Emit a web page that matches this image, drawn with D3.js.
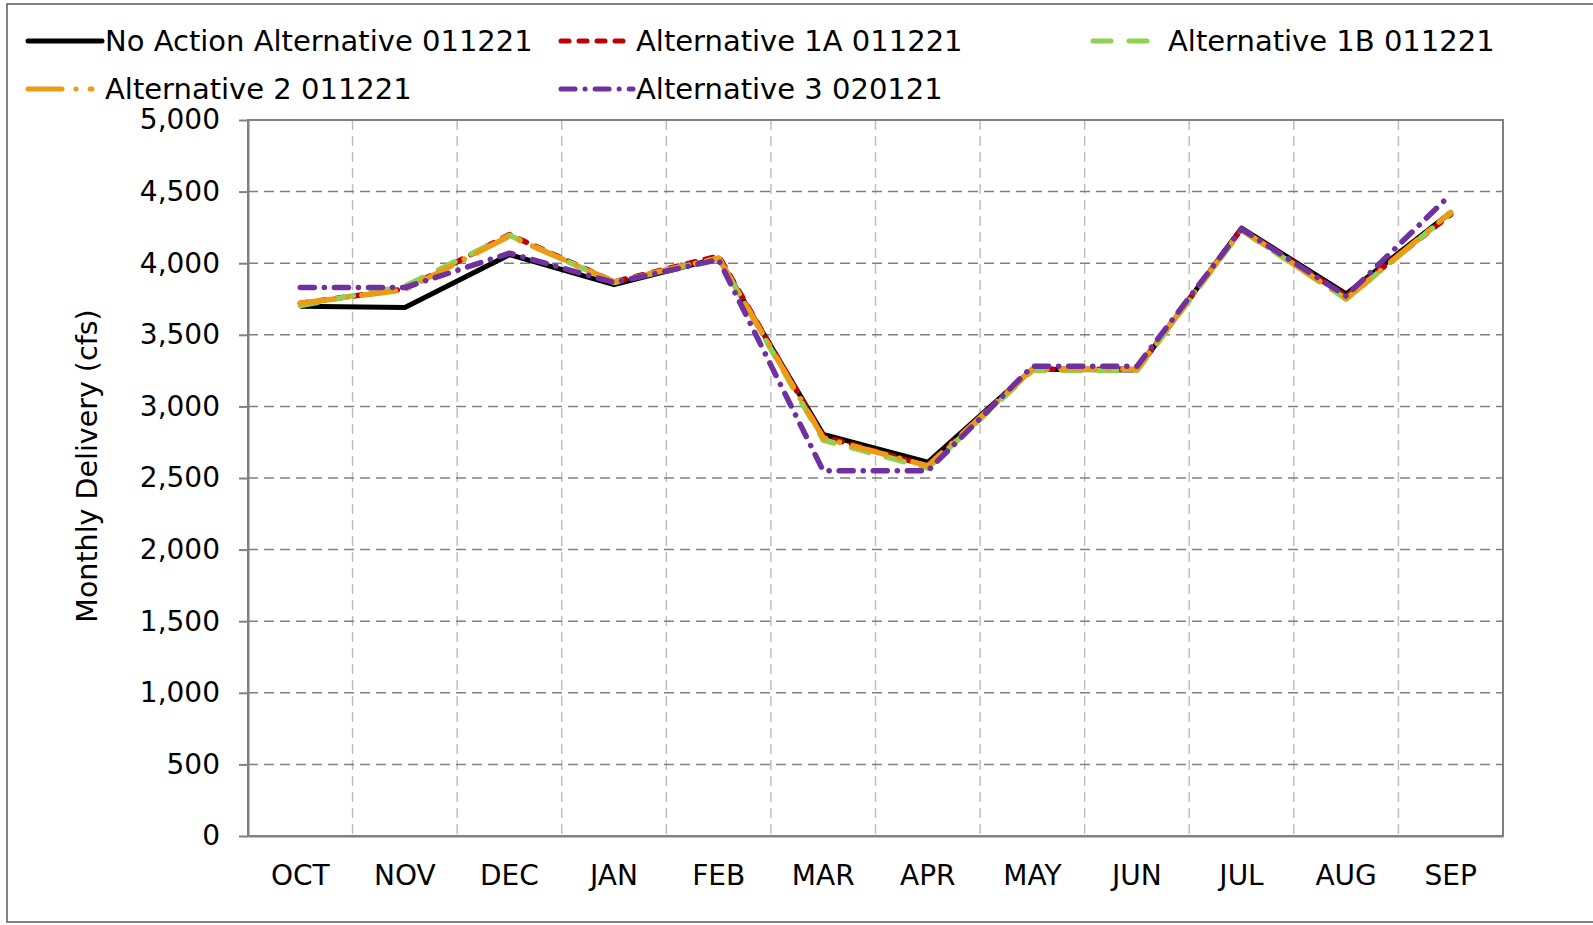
<!DOCTYPE html>
<html>
<head>
<meta charset="utf-8">
<script src="https://cdn.jsdelivr.net/npm/d3@7"></script>
<style>
  body { margin: 0; background: #fff; }
  #chart text { font-family: "DejaVu Sans", Verdana, sans-serif; fill: #000; }
</style>
</head>
<body>
<div id="chart"></div>
<script>
const months = ["OCT", "NOV", "DEC", "JAN", "FEB", "MAR", "APR", "MAY", "JUN", "JUL", "AUG", "SEP"];
const yTicks = [0, 500, 1000, 1500, 2000, 2500, 3000, 3500, 4000, 4500, 5000];

const seriesNames = [
  "No Action Alternative 011221",
  "Alternative 1A 011221",
  "Alternative 1B 011221",
  "Alternative 2 011221",
  "Alternative 3 020121"
];
const noAction = [3700, 3690, 4060, 3850, 4035, 2805, 2610, 3260, 3255, 4245, 3785, 4355];
const alt1A = [3720, 3820, 4200, 3870, 4050, 2790, 2585, 3260, 3260, 4240, 3770, 4340];
const alt1B = [3705, 3840, 4195, 3865, 4035, 2765, 2570, 3250, 3250, 4230, 3750, 4350];
const alt2 = [3720, 3815, 4190, 3870, 4035, 2780, 2585, 3260, 3260, 4235, 3750, 4355];
const alt3 = [3830, 3830, 4070, 3865, 4025, 2550, 2550, 3280, 3280, 4240, 3770, 4480];

const colors = ["#000000", "#c00000", "#92d050", "#eb9c16", "#7030a0"];
const dashes = [null, "8,10", "18,18", "34,14,0.1,14", "14,10,0.1,10"];

const W = 1593, H = 925;
const margin = { top: 120, left: 248 };
const width = 1255, height = 716;

const svg = d3.select("#chart").append("svg").attr("width", W).attr("height", H);

// outer frame
svg.append("rect").attr("x", 7).attr("y", 4).attr("width", 1610).attr("height", 918)
  .attr("fill", "none").attr("stroke", "#595959").attr("stroke-width", 1.5);

const g = svg.append("g").attr("transform", `translate(${margin.left},${margin.top})`);

const x = d3.scaleBand().domain(months).range([0, width]).padding(0);
const y = d3.scaleLinear().domain([0, 5000]).range([height, 0]);
const cx = (m) => x(m) + x.bandwidth() / 2;

// vertical grid
g.selectAll(".vgrid").data(months.slice(1)).enter().append("line")
  .attr("x1", (d) => x(d)).attr("x2", (d) => x(d))
  .attr("y1", 0).attr("y2", height)
  .attr("stroke", "#bfbfbf").attr("stroke-width", 1.5).attr("stroke-dasharray", "10,6");

// horizontal grid
g.selectAll(".hgrid").data(yTicks.filter((v) => v > 0 && v < 5000)).enter().append("line")
  .attr("x1", 0).attr("x2", width)
  .attr("y1", (d) => y(d)).attr("y2", (d) => y(d))
  .attr("stroke", "#808080").attr("stroke-width", 1.5).attr("stroke-dasharray", "10,6");

// plot border
g.append("rect").attr("x", 0).attr("y", 0).attr("width", width).attr("height", height)
  .attr("fill", "none").attr("stroke", "#808080").attr("stroke-width", 2);

// y axis
const yAxis = g.append("g")
  .call(d3.axisLeft(y).tickValues(yTicks).tickFormat(d3.format(",")).tickSize(9).tickSizeOuter(0).tickPadding(19));
yAxis.select(".domain").attr("stroke", "#808080").attr("stroke-width", 2);
yAxis.selectAll(".tick line").attr("stroke", "#808080").attr("stroke-width", 2);
yAxis.selectAll("text").style("font-size", "28px");

// x axis
const xAxis = g.append("g").attr("transform", `translate(0,${height})`)
  .call(d3.axisBottom(x).tickSize(0).tickSizeOuter(0).tickPadding(29));
xAxis.select(".domain").attr("stroke", "#808080").attr("stroke-width", 2);
xAxis.selectAll("text").style("font-size", "28px");

// y title
svg.append("text")
  .attr("transform", "translate(87,466) rotate(-90)")
  .attr("text-anchor", "middle").attr("dy", "0.35em")
  .style("font-size", "28.5px")
  .text("Monthly Delivery (cfs)");

// lines
const allSeries = [noAction, alt1A, alt1B, alt2, alt3];
const line = d3.line().x((d, i) => cx(months[i])).y((d) => y(d));

g.selectAll(".series").data(allSeries).enter().append("path")
  .attr("class", "series")
  .attr("d", line)
  .attr("fill", "none")
  .attr("stroke", (d, i) => colors[i])
  .attr("stroke-width", (d, i) => (i === 0 ? 5 : 5.5))
  .attr("stroke-linecap", (d, i) => (i === 0 ? "butt" : "round"))
  .attr("stroke-linejoin", "round")
  .attr("stroke-dasharray", (d, i) => dashes[i]);

// legend
const legendPos = [
  { x: 28, y: 41 },
  { x: 561, y: 41 },
  { x: 1093, y: 41 },
  { x: 28, y: 89 },
  { x: 561, y: 89 }
];
const sampleLen = [74, 72, 72, 64, 72];
const textX = [105, 636, 1168, 105, 636];

seriesNames.forEach((name, i) => {
  const row = svg.append("g");
  row.append("line")
    .attr("x1", legendPos[i].x).attr("x2", legendPos[i].x + sampleLen[i])
    .attr("y1", legendPos[i].y).attr("y2", legendPos[i].y)
    .attr("stroke", colors[i]).attr("stroke-width", 5)
    .attr("stroke-linecap", "round")
    .attr("stroke-dasharray", dashes[i]);
  row.append("text")
    .attr("x", textX[i]).attr("y", legendPos[i].y).attr("dy", "0.35em")
    .style("font-size", "29px")
    .text(name);
});
</script>
</body>
</html>
